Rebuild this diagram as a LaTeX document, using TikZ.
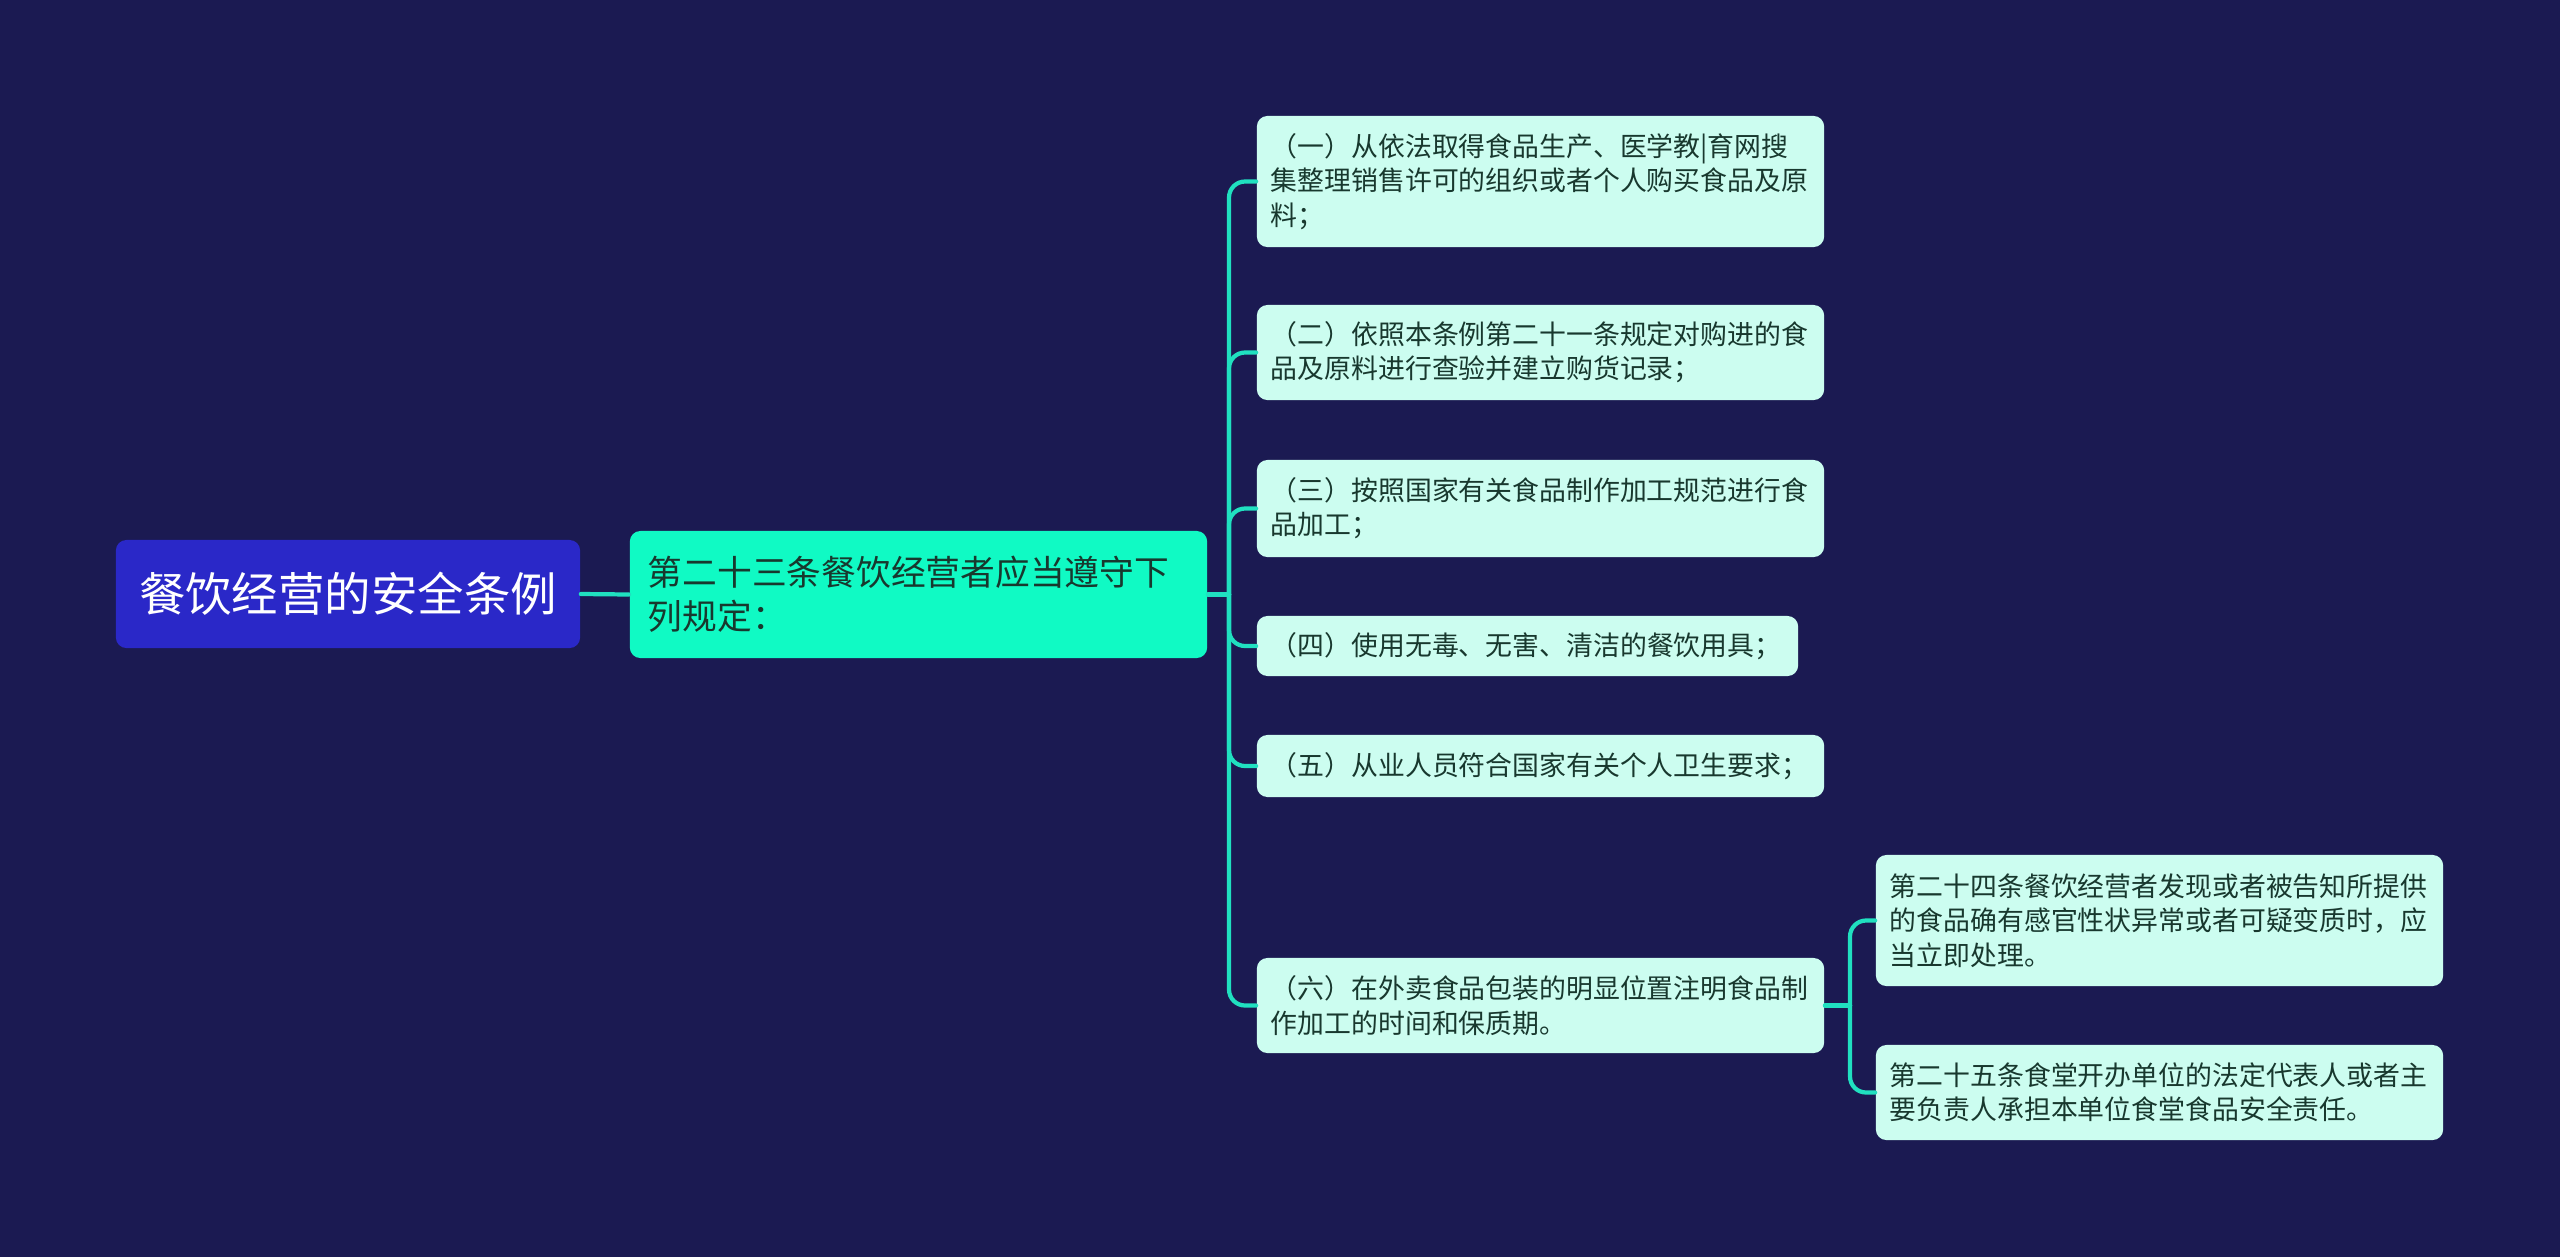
\documentclass[tikz,border=0pt]{standalone}
\usepackage{fontspec}
\newfontfamily\cjk{Noto Sans CJK SC}
\definecolor{bgcol}{RGB}{27,26,82}
\definecolor{rootcol}{RGB}{42,40,200}
\definecolor{subcol}{RGB}{16,250,196}
\definecolor{leafcol}{RGB}{204,253,240}
\definecolor{linecol}{RGB}{32,224,192}
\definecolor{leaftext}{RGB}{24,56,46}
\begin{document}
\begin{tikzpicture}[x=0.01cm,y=-0.01cm,line cap=round,line join=round,
	rootbox/.style={fill=rootcol,rounded corners=3pt,minimum width=4.64cm,minimum height=1.08cm,inner sep=0pt,text=white,font=\cjk\fontsize{13.2}{16}\selectfont},
	subbox/.style={fill=subcol,rounded corners=3pt,minimum width=5.77cm,text width=5.41cm,inner xsep=0.18cm,inner ysep=0pt,minimum height=1.27cm,align=left,text=leaftext,font=\cjk\fontsize{9.88}{12.5}\selectfont},
	leafbox/.style={fill=leafcol,rounded corners=3pt,text width=5.39cm,inner xsep=0.14cm,inner ysep=0pt,align=left,text=leaftext,font=\cjk\fontsize{7.64}{9.75}\selectfont},
	conn/.style={draw=linecol,line width=1.2pt,rounded corners=0.16cm}]
			\fill [bgcol] (0,0) rectangle (2560,1257);
			\useasboundingbox (0,0) rectangle (2560,1257);
			\node [rootbox] (root) at (348,594) {餐饮经营的安全条例};
			\node [subbox] (sub) at (918.5,594.5) {第二十三条餐饮经营者应当遵守下\\列规定：};
			\node [leafbox,minimum height=1.31cm] (l1) at (1540.5,181.5) {（一）从依法取得食品生产、医学教|育网搜\\集整理销售许可的组织或者个人购买食品及原\\料；};
			\node [leafbox,minimum height=0.95cm] (l2) at (1540.5,352.5) {（二）依照本条例第二十一条规定对购进的食\\品及原料进行查验并建立购货记录；};
			\node [leafbox,minimum height=0.97cm] (l3) at (1540.5,508.5) {（三）按照国家有关食品制作加工规范进行食\\品加工；};
			\node [leafbox,minimum height=0.60cm,text width=5.13cm] (l4) at (1527.5,646) {（四）使用无毒、无害、清洁的餐饮用具；};
			\node [leafbox,minimum height=0.62cm] (l5) at (1540.5,766) {（五）从业人员符合国家有关个人卫生要求；};
			\node [leafbox,minimum height=0.95cm] (l6) at (1540.5,1005.5) {（六）在外卖食品包装的明显位置注明食品制\\作加工的时间和保质期。};
			\node [leafbox,minimum height=1.31cm] (s1) at (2159.5,920.5) {第二十四条餐饮经营者发现或者被告知所提供\\的食品确有感官性状异常或者可疑变质时，应\\当立即处理。};
			\node [leafbox,minimum height=0.95cm] (s2) at (2159.5,1092.5) {第二十五条食堂开办单位的法定代表人或者主\\要负责人承担本单位食堂食品安全责任。};
			\coordinate (hub) at (1229,594.5);
			\coordinate (hubsix) at (1850,1005.5);
			\draw [conn] (root.east) -- (sub.west);
			\draw [conn] (sub.east) -- (hub);
			\foreach \leaf in {l1,l2,l3,l4,l5,l6}
				\draw [conn] (hub) |- (\leaf.west);
			\draw [conn] (l6.east) -- (hubsix);
			\draw [conn] (hubsix) |- (s1.west);
			\draw [conn] (hubsix) |- (s2.west);
\end{tikzpicture}
\end{document}
